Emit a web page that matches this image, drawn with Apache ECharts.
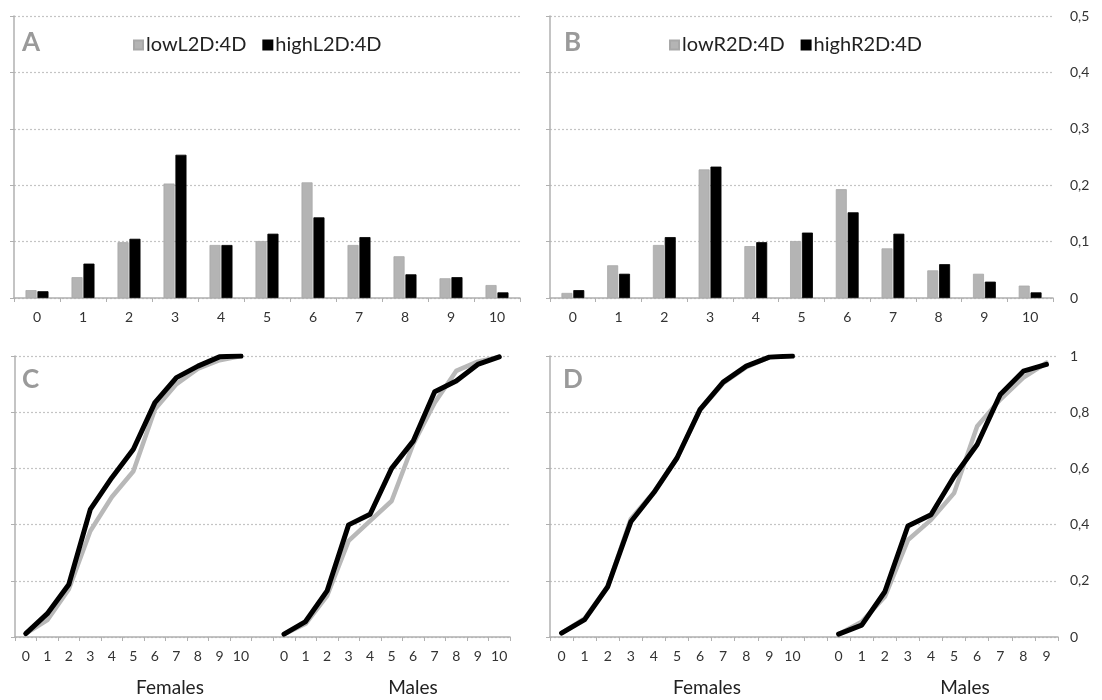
<!DOCTYPE html>
<html>
<head>
    <meta charset="UTF-8">
    <title>2D:4D</title>
    <script src="https://cdn.jsdelivr.net/npm/echarts@6/dist/echarts.min.js"></script>
    <style>
        html, body { margin: 0; padding: 0; background: #fff; }
        #chart { width: 1102px; height: 700px; }
    </style>
</head>
<body>
<div id="chart"></div>
<script>
    // bar panels: categories 0..10
    var barCats = ['0', '1', '2', '3', '4', '5', '6', '7', '8', '9', '10'];
    var lowL = [0.014, 0.037, 0.099, 0.203, 0.094, 0.101, 0.205, 0.094, 0.074, 0.035, 0.023];
    var highL = [0.012, 0.061, 0.105, 0.254, 0.094, 0.114, 0.143, 0.108, 0.042, 0.037, 0.010];
    var lowR = [0.009, 0.058, 0.094, 0.228, 0.092, 0.101, 0.193, 0.088, 0.049, 0.043, 0.022];
    var highR = [0.014, 0.043, 0.108, 0.233, 0.099, 0.116, 0.152, 0.114, 0.060, 0.029, 0.010];

    // cumulative panels
    var femCats = ['0', '1', '2', '3', '4', '5', '6', '7', '8', '9', '10'];
    var maleCatsC = ['0', '1', '2', '3', '4', '5', '6', '7', '8', '9', '10'];
    var maleCatsD = ['0', '1', '2', '3', '4', '5', '6', '7', '8', '9'];

    var femLowC = [0.012, 0.060, 0.170, 0.377, 0.498, 0.590, 0.810, 0.900, 0.955, 0.985, 1.0];
    var femHighC = [0.012, 0.083, 0.187, 0.454, 0.567, 0.668, 0.834, 0.923, 0.964, 0.997, 1.0];
    var maleLowC = [0.010, 0.047, 0.146, 0.342, 0.413, 0.484, 0.686, 0.834, 0.947, 0.980, 0.997];
    var maleHighC = [0.010, 0.055, 0.164, 0.399, 0.437, 0.600, 0.697, 0.873, 0.911, 0.970, 0.997];

    var femLowD = [0.014, 0.066, 0.180, 0.420, 0.516, 0.637, 0.808, 0.903, 0.960, 0.996, 1.0];
    var femHighD = [0.014, 0.062, 0.179, 0.410, 0.514, 0.637, 0.810, 0.907, 0.964, 0.996, 1.0];
    var maleLowD = [0.010, 0.054, 0.143, 0.345, 0.417, 0.512, 0.750, 0.845, 0.923, 0.976];
    var maleHighD = [0.010, 0.042, 0.161, 0.395, 0.435, 0.571, 0.685, 0.863, 0.946, 0.970];

    var fontName = 'Lato';
    var gray = '#b4b4b4';
    var axisGray = '#b0b0b0';

    var chart = echarts.init(document.getElementById('chart'));

    function comma(v) {
        return String(v).replace('.', ',');
    }

    function catAxis(grid, cats) {
        return {
            type: 'category',
            gridIndex: grid,
            data: cats,
            axisLine: { lineStyle: { color: axisGray, width: 1.5 } },
            axisTick: { show: true, length: 4, lineStyle: { color: axisGray } },
            axisLabel: { color: '#333', fontSize: 14, fontFamily: fontName, margin: 12, interval: 0 }
        };
    }

    function valAxis(grid, max, interval) {
        return {
            type: 'value',
            gridIndex: grid,
            min: 0,
            max: max,
            interval: interval,
            position: 'left',
            axisLine: { show: true, lineStyle: { color: axisGray, width: 1.5 } },
            axisTick: { show: true, inside: false, length: 4, lineStyle: { color: axisGray } },
            axisLabel: { show: false },
            splitLine: { show: true, lineStyle: { color: '#c4c4c4', type: [2, 2], width: 1.2 } }
        };
    }

    // labels only, drawn on the right side of panels B and D
    function rightLabels(grid, max, interval, margin) {
        return {
            type: 'value',
            gridIndex: grid,
            min: 0,
            max: max,
            interval: interval,
            position: 'right',
            axisLine: { show: false },
            axisTick: { show: false },
            splitLine: { show: false },
            axisLabel: {
                color: '#333', fontSize: 14, fontFamily: fontName, margin: margin,
                formatter: function (v) { return comma(Math.round(v * 10) / 10); }
            }
        };
    }

    // cumulative axis: females, empty slot, males
    var catsC = femCats.concat([''], maleCatsC);
    var catsD = femCats.concat([''], maleCatsD);

    function barSeries(name, data, xi, yi, color) {
        return {
            name: name,
            type: 'bar',
            xAxisIndex: xi,
            yAxisIndex: yi,
            data: data,
            barWidth: '24%',
            barGap: '8%',
            itemStyle: { color: color, borderColor: color === '#000' ? '#000' : '#a8a8a8', borderWidth: 0.8 }
        };
    }

    function lineSeries(name, data, xi, yi, color, width, z) {
        return {
            name: name,
            type: 'line',
            xAxisIndex: xi,
            yAxisIndex: yi,
            data: data,
            symbol: 'none',
            connectNulls: false,
            z: z,
            lineStyle: { color: color, width: width, cap: 'round', join: 'round' }
        };
    }

    function letter(txt, x, y) {
        return {
            type: 'text', left: x, top: y,
            style: { text: txt, fill: '#9a9a9a', font: 'bold 26px ' + fontName }
        };
    }

    function caption(txt, cx, y) {
        return {
            type: 'text', x: cx, y: y,
            style: { text: txt, fill: '#222', font: '19px ' + fontName, textAlign: 'center', textVerticalAlign: 'middle' }
        };
    }

    var legendStyle = {
        icon: 'rect',
        itemWidth: 9,
        itemHeight: 9,
        itemGap: 16,
        top: 30,
        textStyle: { fontSize: 20, color: '#222', fontFamily: fontName, padding: [0, 0, 0, -2] }
    };

    var option = {
        animation: false,
        backgroundColor: '#fff',
        textStyle: { fontFamily: fontName },
        grid: [
            { left: 14, top: 16, width: 506, height: 282 },
            { left: 550, top: 16, width: 503, height: 282 },
            { left: 15, top: 356, width: 495, height: 281 },
            { left: 550, top: 356, width: 508, height: 281 }
        ],
        legend: [
            Object.assign({ left: 128, data: ['lowL2D:4D', 'highL2D:4D'] }, legendStyle),
            Object.assign({ left: 664, data: ['lowR2D:4D', 'highR2D:4D'] }, legendStyle)
        ],
        xAxis: [
            catAxis(0, barCats),
            catAxis(1, barCats),
            catAxis(2, catsC),
            catAxis(3, catsD)
        ],
        yAxis: [
            valAxis(0, 0.5, 0.1),
            valAxis(1, 0.5, 0.1),
            rightLabels(1, 0.5, 0.1, 17),
            valAxis(2, 1, 0.2),
            valAxis(3, 1, 0.2),
            rightLabels(3, 1, 0.2, 12)
        ],
        series: [
            barSeries('lowL2D:4D', lowL, 0, 0, gray),
            barSeries('highL2D:4D', highL, 0, 0, '#000'),
            barSeries('lowR2D:4D', lowR, 1, 1, gray),
            barSeries('highR2D:4D', highR, 1, 1, '#000'),
            lineSeries('lowC', femLowC.concat([null], maleLowC), 2, 3, '#b8b8b8', 4.5, 2),
            lineSeries('highC', femHighC.concat([null], maleHighC), 2, 3, '#000', 5, 3),
            lineSeries('lowD', femLowD.concat([null], maleLowD), 3, 4, '#b8b8b8', 4.5, 2),
            lineSeries('highD', femHighD.concat([null], maleHighD), 3, 4, '#000', 5, 3)
        ],
        graphic: [
            letter('A', 22, 30),
            letter('B', 564, 30),
            letter('C', 22, 367),
            letter('D', 563, 367),
            caption('Females', 170, 688),
            caption('Males', 413, 688),
            caption('Females', 707, 688),
            caption('Males', 965, 688)
        ]
    };

    chart.setOption(option);
</script>
</body>
</html>
